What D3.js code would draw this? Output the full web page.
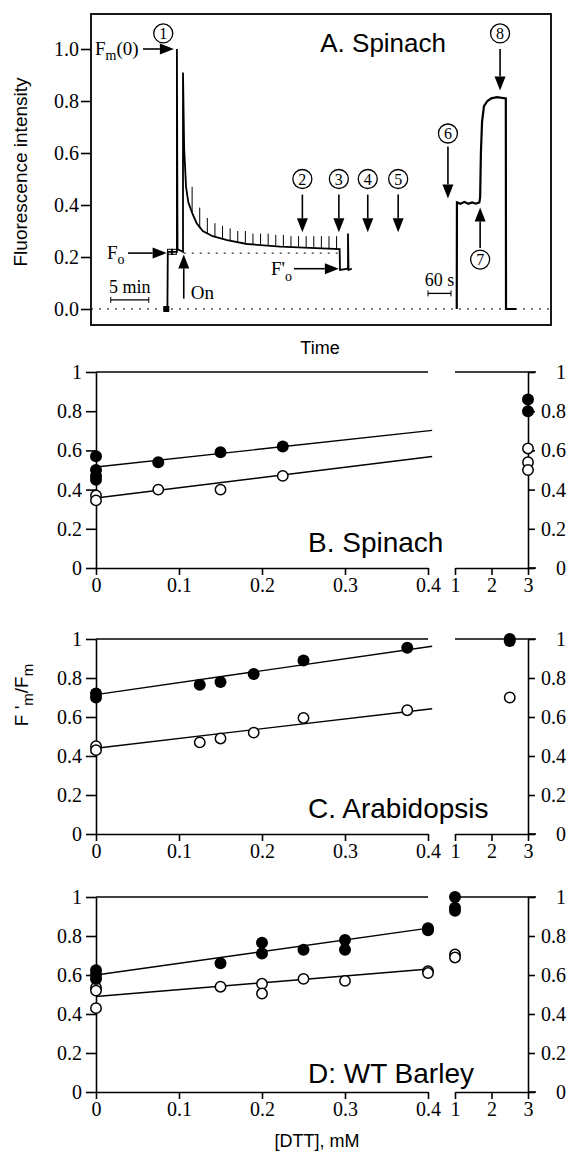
<!DOCTYPE html>
<html>
<head>
<meta charset="utf-8">
<script src="https://cdn.jsdelivr.net/npm/d3@7"></script>
<style>
  body { margin: 0; background: #fff; }
  .tick text { font-family: "Liberation Serif", "Times New Roman", serif; font-size: 20px; fill: #000; }
  .sans { font-family: "Liberation Sans", Arial, sans-serif; fill: #000; }
  .serif { font-family: "Liberation Serif", "Times New Roman", serif; fill: #000; }
</style>
</head>
<body>
<svg id="fig" width="569" height="1161"></svg>
<script>
// ---- panel A : fluorescence trace (left part in minutes, right part in seconds)
var traceMin = [[9.9,0],[10.05,0],[10.1,0.22],[11.3,0.22],[11.3,1.0],[11.38,0.23],[12.1,0.22],[12.1,0.91],
  [12.25,0.62],[12.5,0.47],[12.8,0.41],[13.3,0.37],[13.9,0.33],[14.7,0.30],[16.0,0.28],[17.9,0.265],
  [20.5,0.25],[24.9,0.24],[28.8,0.235],[32.7,0.23],[32.75,0.15],[33.8,0.155],[33.8,0.29],[33.87,0.15],[34.3,0.155]];
var pulseT  = [13.3,14.3,15.3,16.3,17.3,18.3,19.3,20.3,21.3,22.3,23.3,24.3,25.3,26.3,27.3,28.3,29.3,30.3,31.3,32.3];
var pulseLo = [0.37,0.31,0.29,0.28,0.27,0.265,0.26,0.255,0.25,0.25,0.245,0.245,0.24,0.24,0.24,0.235,0.235,0.235,0.23,0.23];
var pulseHi = [0.47,0.39,0.35,0.33,0.32,0.31,0.30,0.30,0.29,0.29,0.29,0.285,0.285,0.28,0.28,0.28,0.28,0.28,0.28,0.28];
var traceSec = [[75,0],[75.5,0.41],[85,0.405],[95,0.412],[105,0.405],[115,0.41],[125,0.405],[134,0.41],
  [136,0.43],[138,0.6],[141,0.72],[146,0.78],[155,0.80],[165,0.81],[180,0.815],[203,0.81],[203.5,0],[230,0]];
var yTicksA = [0, 0.2, 0.4, 0.6, 0.8, 1.0];

// ---- panels B-D : F'm/Fm vs [DTT]
var yTicks = [0, 0.2, 0.4, 0.6, 0.8, 1];
var xTicksLow = [0, 0.1, 0.2, 0.3, 0.4];
var xTicksHigh = [1, 2, 3];

var spinFilled = [[0,0.57],[0,0.50],[0,0.47],[0,0.45],[0.075,0.54],[0.15,0.59],[0.225,0.62],[3,0.86],[3,0.80]];
var spinOpen   = [[0,0.37],[0,0.345],[0.075,0.40],[0.15,0.40],[0.225,0.47],[3,0.61],[3,0.54],[3,0.50]];
var spinFit    = [[0.515,0.70],[0.357,0.566]];   // [value at 0, value at 0.4] filled, open

var arabFilled = [[0,0.72],[0,0.70],[0.125,0.765],[0.15,0.78],[0.19,0.82],[0.25,0.89],[0.375,0.955],[2.5,1.0],[2.5,0.99]];
var arabOpen   = [[0,0.45],[0,0.43],[0.125,0.47],[0.15,0.49],[0.19,0.52],[0.25,0.595],[0.375,0.635],[2.5,0.70]];
var arabFit    = [[0.715,0.96],[0.44,0.64]];

var barlFilled = [[0,0.625],[0,0.60],[0,0.58],[0.15,0.66],[0.2,0.765],[0.2,0.71],[0.25,0.73],[0.3,0.78],[0.3,0.73],
  [0.4,0.84],[0.4,0.83],[1,1.0],[1,0.945],[1,0.93]];
var barlOpen   = [[0,0.535],[0,0.52],[0,0.43],[0.15,0.54],[0.2,0.555],[0.2,0.505],[0.25,0.58],[0.3,0.57],
  [0.4,0.62],[0.4,0.61],[1,0.705],[1,0.69]];
var barlFit    = [[0.60,0.84],[0.49,0.63]];

var svg = d3.select("#fig");

function arrow(g, x1, y1, x2, y2) {
  var a = Math.atan2(y2 - y1, x2 - x1), L = 14, W = 5.5;
  var bx = x2 - L * Math.cos(a), by = y2 - L * Math.sin(a);
  g.append("line").attr("x1", x1).attr("y1", y1).attr("x2", bx).attr("y2", by)
    .attr("stroke", "#000").attr("stroke-width", 1.6);
  g.append("path")
    .attr("d", "M" + x2 + "," + y2 + "L" + (bx - W * Math.sin(a)) + "," + (by + W * Math.cos(a)) +
      "L" + (bx + W * Math.sin(a)) + "," + (by - W * Math.cos(a)) + "Z")
    .attr("fill", "#000");
}

function numCircle(g, x, y, n) {
  g.append("circle").attr("cx", x).attr("cy", y).attr("r", 9.5)
    .attr("fill", "#fff").attr("stroke", "#000").attr("stroke-width", 1.3);
  g.append("text").attr("class", "serif").attr("x", x).attr("y", y + 5.5)
    .attr("text-anchor", "middle").style("font-size", "16px").text(n);
}

// ================= panel A =================
var xMin = d3.scaleLinear().domain([0, 60.5]).range([91, 551]);
var xSec = d3.scaleLinear().domain([0, 240]).range([428, 520]);
var yA = d3.scaleLinear().domain([0, 1]).range([309, 49]);

var gA = svg.append("g");
gA.append("rect").attr("x", 91).attr("y", 14).attr("width", 460).attr("height", 311)
  .attr("fill", "none").attr("stroke", "#000").attr("stroke-width", 1.8);

gA.append("g").attr("transform", "translate(91,0)")
  .call(d3.axisLeft(yA).tickValues(yTicksA).tickFormat(d3.format(".1f")).tickSize(10).tickPadding(2).tickSizeOuter(0))
  .call(g => g.select(".domain").remove())
  .call(g => g.selectAll(".tick line").attr("stroke-width", 1.6));

// dotted references
gA.append("line").attr("x1", xMin(0)).attr("x2", xMin(60.5)).attr("y1", yA(0)).attr("y2", yA(0))
  .attr("stroke", "#000").attr("stroke-width", 1).attr("stroke-dasharray", "2,6");
gA.append("line").attr("x1", xMin(12.2)).attr("x2", xMin(32.7)).attr("y1", yA(0.215)).attr("y2", yA(0.215))
  .attr("stroke", "#000").attr("stroke-width", 1).attr("stroke-dasharray", "2,6");

gA.append("path").datum(traceMin)
  .attr("d", d3.line().x(d => xMin(d[0])).y(d => yA(d[1])))
  .attr("fill", "none").attr("stroke", "#000").attr("stroke-width", 1.8);
gA.selectAll(".pulse").data(pulseT).enter().append("line").attr("class", "pulse")
  .attr("x1", d => xMin(d)).attr("x2", d => xMin(d))
  .attr("y1", (d, i) => yA(pulseLo[i])).attr("y2", (d, i) => yA(pulseHi[i]))
  .attr("stroke", "#000").attr("stroke-width", 1);
gA.append("path").datum(traceSec)
  .attr("d", d3.line().x(d => xSec(d[0])).y(d => yA(d[1])))
  .attr("fill", "none").attr("stroke", "#000").attr("stroke-width", 2.2);

// small markers at start of trace
gA.append("rect").attr("x", xMin(9.9) - 3).attr("y", yA(0) - 3).attr("width", 6).attr("height", 6).attr("fill", "#000");
gA.append("rect").attr("x", xMin(10.4) - 2.5).attr("y", yA(0.22) - 2.5).attr("width", 5).attr("height", 5)
  .attr("fill", "none").attr("stroke", "#000");
gA.append("rect").attr("x", xMin(10.9) - 2.5).attr("y", yA(0.22) - 2.5).attr("width", 5).attr("height", 5)
  .attr("fill", "none").attr("stroke", "#000");

// annotations
numCircle(gA, xMin(9.5), yA(1.06), "1");
var fm = gA.append("text").attr("class", "serif").attr("x", 95).attr("y", yA(1.0) + 6).style("font-size", "19px");
fm.append("tspan").text("F");
fm.append("tspan").attr("dy", 5).style("font-size", "14px").text("m");
fm.append("tspan").attr("dy", -5).text("(0)");
arrow(gA, 143, yA(1.0), xMin(10.9), yA(1.0));

var fo = gA.append("text").attr("class", "serif").attr("x", 107).attr("y", yA(0.215) + 6).style("font-size", "19px");
fo.append("tspan").text("F");
fo.append("tspan").attr("dy", 5).style("font-size", "14px").text("o");
arrow(gA, 128, yA(0.215), xMin(9.95), yA(0.215));

arrow(gA, xMin(12.2), yA(0.04), xMin(12.2), yA(0.21));
gA.append("text").attr("class", "serif").attr("x", xMin(12.2) + 7).attr("y", yA(0.04)).style("font-size", "19px").text("On");

var fo2 = gA.append("text").attr("class", "serif").attr("x", 271).attr("y", yA(0.155) + 6).style("font-size", "19px");
fo2.append("tspan").text("F'");
fo2.append("tspan").attr("dy", 6).style("font-size", "14px").text("o");
arrow(gA, 294, yA(0.155), xMin(32.6), yA(0.155));

[[27.8, "2"], [32.6, "3"], [36.4, "4"], [40.4, "5"]].forEach(function (d) {
  numCircle(gA, xMin(d[0]), yA(0.5), d[1]);
  arrow(gA, xMin(d[0]), yA(0.44), xMin(d[0]), yA(0.295));
});
numCircle(gA, xSec(52), yA(0.675), "6");
arrow(gA, xSec(52), yA(0.625), xSec(52), yA(0.425));
numCircle(gA, xSec(136), yA(0.19), "7");
arrow(gA, xSec(136), yA(0.235), xSec(136), yA(0.39));
numCircle(gA, xSec(188), yA(1.06), "8");
arrow(gA, xSec(188), yA(1.0), xSec(188), yA(0.84));

// scale bars
function scaleBar(x1, x2, v, label) {
  var y = yA(v);
  gA.append("line").attr("x1", x1).attr("x2", x2).attr("y1", y).attr("y2", y).attr("stroke", "#000").attr("stroke-width", 1.3);
  gA.append("line").attr("x1", x1).attr("x2", x1).attr("y1", y - 3).attr("y2", y + 3).attr("stroke", "#000");
  gA.append("line").attr("x1", x2).attr("x2", x2).attr("y1", y - 3).attr("y2", y + 3).attr("stroke", "#000");
  gA.append("text").attr("class", "serif").attr("x", (x1 + x2) / 2).attr("y", y - 7)
    .attr("text-anchor", "middle").style("font-size", "18px").text(label);
}
scaleBar(xMin(2.6), xMin(7.6), 0.035, "5 min");
scaleBar(xSec(0), xSec(60), 0.06, "60 s");

gA.append("text").attr("class", "sans").attr("x", 446).attr("y", 52).attr("text-anchor", "end")
  .style("font-size", "26px").text("A. Spinach");
gA.append("text").attr("class", "sans").attr("x", 320).attr("y", 354).attr("text-anchor", "middle")
  .style("font-size", "18px").text("Time");
gA.append("text").attr("class", "sans").attr("transform", "translate(27,172) rotate(-90)")
  .attr("text-anchor", "middle").style("font-size", "19px").text("Fluorescence intensity");

// ================= panels B-D =================
var xLow = d3.scaleLinear().domain([0, 0.4]).range([96, 428]);
var xHigh = d3.scaleLinear().domain([1, 3]).range([455, 528]);
function xPos(v) { return v <= 0.5 ? xLow(v) : xHigh(v); }
var fmt = d => (d === 0 || d === 1) ? String(d) : d3.format(".1f")(d);

function dttPanel(top, bottom, filled, open, fit, title, titleY) {
  var y = d3.scaleLinear().domain([0, 1]).range([bottom, top]);
  var g = svg.append("g");

  // frame lines
  g.append("line").attr("x1", xLow(0)).attr("x2", xLow(0.4)).attr("y1", y(1)).attr("y2", y(1)).attr("stroke", "#000").attr("stroke-width", 1.6);
  g.append("line").attr("x1", xHigh(1)).attr("x2", xHigh(3) + 8).attr("y1", y(1)).attr("y2", y(1)).attr("stroke", "#000").attr("stroke-width", 1.6);
  g.append("line").attr("x1", xHigh(3)).attr("x2", xHigh(3) + 8).attr("y1", y(0)).attr("y2", y(0)).attr("stroke", "#000").attr("stroke-width", 1.6);

  g.append("g").attr("transform", "translate(" + xLow(0) + ",0)")
    .call(d3.axisLeft(y).tickValues(yTicks).tickFormat(fmt).tickSize(10).tickPadding(4).tickSizeOuter(0));
  g.append("g").attr("transform", "translate(" + xHigh(3) + ",0)")
    .call(d3.axisRight(y).tickValues(yTicks).tickFormat(fmt).tickSize(7).tickPadding(4).tickSizeOuter(0))
    .call(a => a.selectAll(".tick text").attr("text-anchor", "end").attr("x", 38));
  g.append("g").attr("transform", "translate(0," + y(0) + ")")
    .call(d3.axisBottom(xLow).tickValues(xTicksLow).tickFormat(fmt).tickSize(7).tickPadding(3).tickSizeOuter(0));
  g.append("g").attr("transform", "translate(0," + y(0) + ")")
    .call(d3.axisBottom(xHigh).tickValues(xTicksHigh).tickFormat(d3.format("d")).tickSize(7).tickPadding(3).tickSizeOuter(0));
  g.selectAll(".domain, .tick line").attr("stroke-width", 1.6);

  // fitted lines
  fit.forEach(function (f) {
    g.append("line").attr("x1", xLow(0)).attr("x2", xLow(0.405))
      .attr("y1", y(f[0])).attr("y2", y(f[0] + (f[1] - f[0]) * 0.405 / 0.4))
      .attr("stroke", "#000").attr("stroke-width", 1.4);
  });

  g.selectAll(".open").data(open).enter().append("circle").attr("class", "open")
    .attr("cx", d => xPos(d[0])).attr("cy", d => y(d[1])).attr("r", 5.2)
    .attr("fill", "#fff").attr("stroke", "#000").attr("stroke-width", 1.5);
  g.selectAll(".filled").data(filled).enter().append("circle").attr("class", "filled")
    .attr("cx", d => xPos(d[0])).attr("cy", d => y(d[1])).attr("r", 6).attr("fill", "#000");

  g.append("text").attr("class", "sans").attr("x", 308).attr("y", titleY)
    .style("font-size", "28px").text(title);
}

dttPanel(372, 568, spinFilled, spinOpen, spinFit, "B. Spinach", 552);
dttPanel(639, 834, arabFilled, arabOpen, arabFit, "C. Arabidopsis", 818);
dttPanel(897, 1092, barlFilled, barlOpen, barlFit, "D: WT Barley", 1083);

var lab = svg.append("text").attr("class", "sans").attr("transform", "translate(28,695) rotate(-90)")
  .attr("text-anchor", "middle").style("font-size", "19px");
lab.append("tspan").text("F '");
lab.append("tspan").attr("dy", 5).style("font-size", "15px").text("m");
lab.append("tspan").attr("dy", -5).text("/F");
lab.append("tspan").attr("dy", 5).style("font-size", "15px").text("m");

svg.append("text").attr("class", "sans").attr("x", 317).attr("y", 1147).attr("text-anchor", "middle")
  .style("font-size", "18px").text("[DTT], mM");
</script>
</body>
</html>
